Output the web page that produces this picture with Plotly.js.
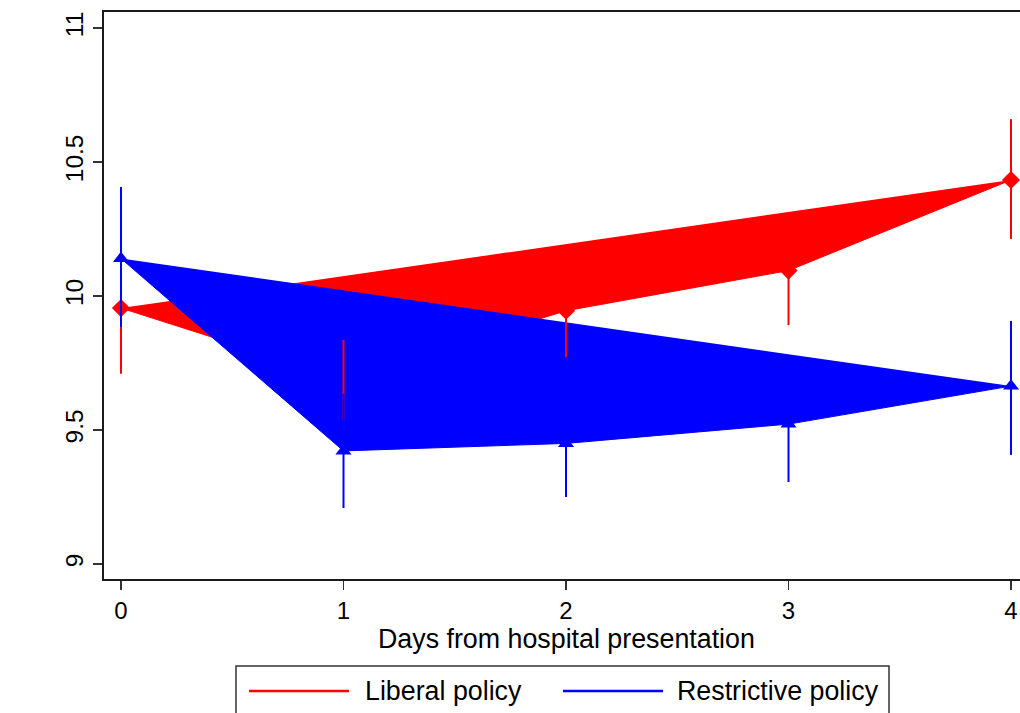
<!DOCTYPE html>
<html>
<head>
<meta charset="utf-8">
<script src="https://cdn.plot.ly/plotly-3.0.1.min.js"></script>
<style>html,body{margin:0;padding:0;background:#fff;}#chart{width:1020px;height:713px;}</style>
</head>
<body>
<div id="chart"></div>
<script>
// Days from hospital presentation
const days = [0, 1, 2, 3, 4];
// Liberal policy: mean and 95% CI
const liberalMean  = [9.955, 9.69, 9.945, 10.095, 10.433];
const liberalLower = [9.71, 9.54, 9.772, 9.892, 10.213];
const liberalUpper = [10.20, 9.836, 10.118, 10.30, 10.66];
// Restrictive policy: mean and 95% CI
const restrictMean  = [10.14, 9.422, 9.45, 9.522, 9.664];
const restrictLower = [9.884, 9.209, 9.25, 9.306, 9.407];
const restrictUpper = [10.407, 9.635, 9.65, 9.74, 9.907];
const xTickVals = [0, 1, 2, 3, 4];
const yTickVals = [9, 9.5, 10, 10.5, 11];
const yTickText = ['9', '9.5', '10', '10.5', '11'];
const seriesNames = ['Liberal policy', 'Restrictive policy'];
const xTitle = 'Days from hospital presentation';

const RED = '#ff0000', BLUE = '#0000ff';
const FONT = '"Liberation Sans", Arial, Helvetica, sans-serif';

function diff(a, b) { return a.map((v, i) => +(v - b[i]).toFixed(4)); }

const traces = [
  {
    x: days, y: liberalMean, type: 'scatter', mode: 'lines+markers',
    fill: 'toself', fillcolor: RED,
    line: {color: RED, width: 1},
    marker: {symbol: 'diamond', size: 14, color: RED},
    showlegend: false, hoverinfo: 'skip'
  },
  {
    x: days, y: restrictMean, type: 'scatter', mode: 'lines+markers',
    fill: 'toself', fillcolor: BLUE,
    line: {color: BLUE, width: 1},
    marker: {symbol: 'triangle-up', size: 14, color: BLUE},
    showlegend: false, hoverinfo: 'skip'
  },
  {
    x: days, y: liberalMean, type: 'scatter', mode: 'markers',
    marker: {size: 1, color: RED, opacity: 0},
    error_y: {type: 'data', symmetric: false,
      array: diff(liberalUpper, liberalMean),
      arrayminus: diff(liberalMean, liberalLower),
      color: RED, thickness: 2, width: 0},
    showlegend: false, hoverinfo: 'skip'
  },
  {
    x: days, y: restrictMean, type: 'scatter', mode: 'markers',
    marker: {size: 1, color: BLUE, opacity: 0},
    error_y: {type: 'data', symmetric: false,
      array: diff(restrictUpper, restrictMean),
      arrayminus: diff(restrictMean, restrictLower),
      color: BLUE, thickness: 2, width: 0},
    showlegend: false, hoverinfo: 'skip'
  }
];

const layout = {
  width: 1020, height: 713,
  margin: {l: 104, r: 0, t: 12, b: 134},
  paper_bgcolor: '#fff', plot_bgcolor: '#fff',
  font: {family: FONT, size: 24, color: '#000'},
  showlegend: false,
  xaxis: {
    range: [-0.0764, 4.0404], tickvals: xTickVals, ticktext: xTickVals.map(String),
    showgrid: false, zeroline: false,
    showline: true, linecolor: '#1a1a1a', linewidth: 2, mirror: true,
    ticks: 'outside', ticklen: 9, tickwidth: 1.5, tickcolor: '#333',
    tickfont: {family: FONT, size: 24, color: '#000'},
    automargin: false, fixedrange: true
  },
  yaxis: {
    range: [8.944, 11.06], tickvals: yTickVals, ticktext: yTickText,
    showgrid: false, zeroline: false,
    showline: true, linecolor: '#1a1a1a', linewidth: 2,
    ticks: 'outside', ticklen: 9, tickwidth: 1.5, tickcolor: '#333',
    tickangle: -90,
    tickfont: {family: FONT, size: 24.5, color: '#000'},
    automargin: false, fixedrange: true
  },
  shapes: [
    {type: 'rect', xref: 'paper', yref: 'paper', x0: 0.1441, x1: 0.857, y0: -0.25, y1: -0.1534,
      line: {color: '#333', width: 1.5}, fillcolor: 'rgba(0,0,0,0)'},
    {type: 'line', xref: 'paper', yref: 'paper', x0: 0.1583, x1: 0.2675, y0: -0.1975, y1: -0.1975,
      line: {color: RED, width: 2.5}},
    {type: 'line', xref: 'paper', yref: 'paper', x0: 0.5011, x1: 0.6103, y0: -0.1975, y1: -0.1975,
      line: {color: BLUE, width: 2.5}}
  ],
  annotations: [
    {xref: 'paper', yref: 'paper', x: 0.5044, y: -0.1058, xanchor: 'center', yanchor: 'middle',
      text: xTitle, showarrow: false, font: {family: FONT, size: 26.8, color: '#000'}},
    {xref: 'paper', yref: 'paper', x: 0.283, y: -0.1975, xanchor: 'left', yanchor: 'middle',
      text: seriesNames[0], showarrow: false, font: {family: FONT, size: 26.8, color: '#000'}},
    {xref: 'paper', yref: 'paper', x: 0.6233, y: -0.1975, xanchor: 'left', yanchor: 'middle',
      text: seriesNames[1], showarrow: false, font: {family: FONT, size: 26.8, color: '#000'}}
  ]
};

Plotly.newPlot('chart', traces, layout, {staticPlot: true, displayModeBar: false});
</script>
</body>
</html>
